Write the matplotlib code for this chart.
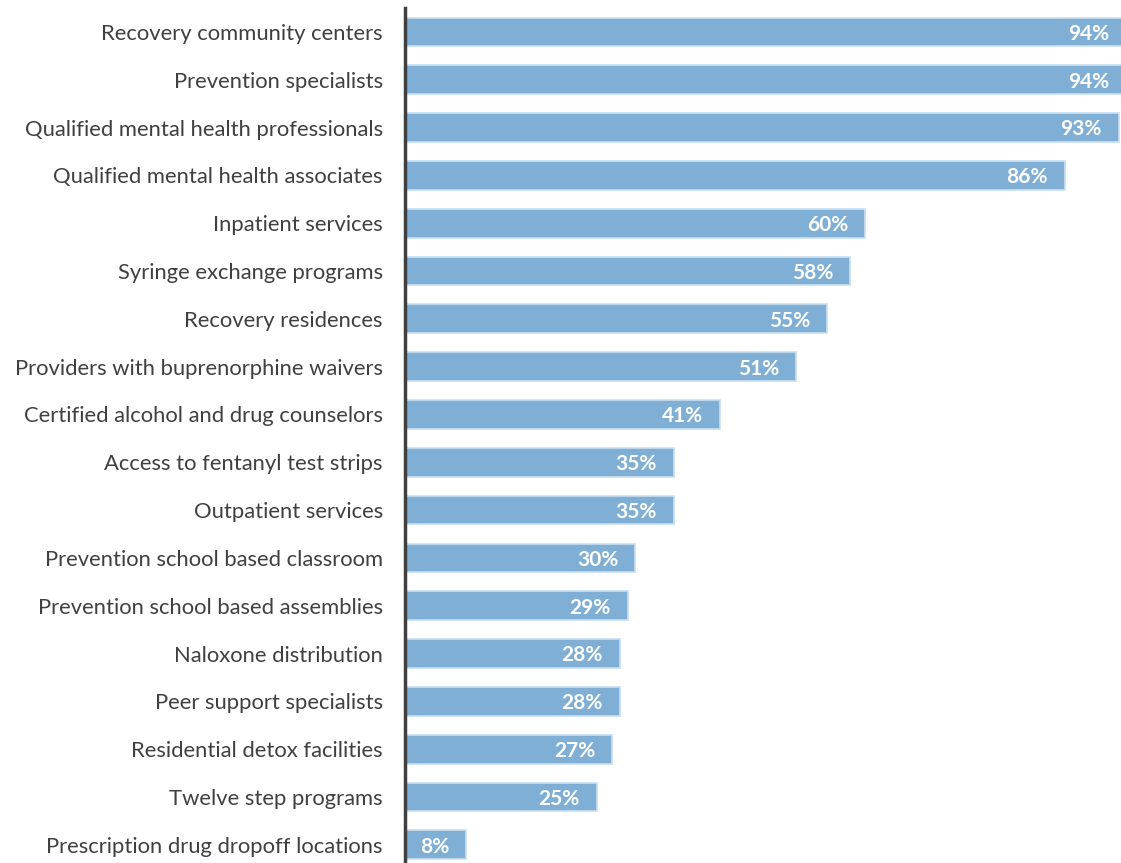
import matplotlib.pyplot as plt

categories = [
    "Recovery community centers",
    "Prevention specialists",
    "Qualified mental health professionals",
    "Qualified mental health associates",
    "Inpatient services",
    "Syringe exchange programs",
    "Recovery residences",
    "Providers with buprenorphine waivers",
    "Certified alcohol and drug counselors",
    "Access to fentanyl test strips",
    "Outpatient services",
    "Prevention school based classroom",
    "Prevention school based assemblies",
    "Naloxone distribution",
    "Peer support specialists",
    "Residential detox facilities",
    "Twelve step programs",
    "Prescription drug dropoff locations",
]
values = [94, 94, 93, 86, 60, 58, 55, 51, 41, 35, 35, 30, 29, 28, 28, 27, 25, 8]

plt.rcParams['font.family'] = ['Lato', 'DejaVu Sans']

fig = plt.figure(figsize=(11.21, 8.63), dpi=100)
ax = fig.add_axes([405 / 1121, 0, 1 - 405 / 1121, 1 - 8 / 863])

ypos = list(range(len(categories)))
ax.barh(ypos, values, height=0.6, color="#7fafd4", edgecolor="#c9def0", linewidth=1.2)

for y, v in zip(ypos, values):
    ax.text(v - 2.2, y + 0.04, f"{v}%", ha="right", va="center", color="white",
            fontsize=15, fontweight="bold")

ax.set_yticks(ypos)
ax.set_yticklabels(categories, fontsize=15.8, color="#404040")
ax.tick_params(axis="y", length=0, pad=16)
ax.set_xticks([])
ax.set_xlim(0, 93.3)
ax.set_ylim(len(categories) - 1 + 0.38, -0.5)

for s in ["top", "right", "bottom"]:
    ax.spines[s].set_visible(False)
ax.spines["left"].set_color("#404040")
ax.spines["left"].set_linewidth(2.5)
ax.spines["left"].set_zorder(3)

fig.savefig("out.png", dpi=100)
